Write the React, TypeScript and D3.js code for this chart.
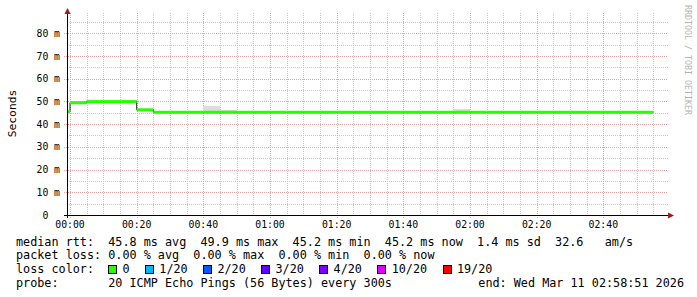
import React from "react";
import * as d3 from "d3";

const W = 697;
const H = 297;

// 5-minute RRD slots, first slot starts 5 minutes before 00:00
const slotMinutes = 5;
const firstSlotStart = -5;
const medianRtt = [
  45.5, 49.4, 49.9, 49.9, 49.9, 46.3, 45.2, 45.2, 45.2, 45.2,
  45.2, 45.2, 45.2, 45.2, 45.2, 45.2, 45.2, 45.2, 45.2, 45.2,
  45.2, 45.2, 45.2, 45.2, 45.2, 45.2, 45.2, 45.2, 45.2, 45.2,
  45.2, 45.2, 45.2, 45.2, 45.2, 45.2,
];
const smokeHigh = [
  45.5, 49.4, 49.9, 49.9, 49.9, 46.3, 45.2, 45.2, 45.2, 48.1,
  46.4, 45.2, 45.2, 45.2, 45.2, 45.2, 45.2, 45.2, 45.2, 45.2,
  45.2, 45.2, 45.2, 45.2, 46.6, 45.2, 45.2, 45.2, 45.2, 45.2,
  45.2, 45.2, 45.2, 45.2, 45.2, 45.2,
];

const timeTickMinutes = [0, 20, 40, 60, 80, 100, 120, 140, 160];
const timeTickLabels = ["00:00", "00:20", "00:40", "01:00", "01:20", "01:40", "02:00", "02:20", "02:40"];
const yTickValues = [0, 10, 20, 30, 40, 50, 60, 70, 80];
const yTickLabels = ["0", "10", "20", "30", "40", "50", "60", "70", "80"];
const yTickUnits = ["", "m", "m", "m", "m", "m", "m", "m", "m"];

const lossLabels = ["0", "1/20", "2/20", "3/20", "4/20", "10/20", "19/20"];
const lossColors = ["#26ff00", "#00b8ff", "#0059ff", "#5e00ff", "#7e00ff", "#dd00ff", "#ff0000"];

const legendRtt = "median rtt:  45.8 ms avg  49.9 ms max  45.2 ms min  45.2 ms now  1.4 ms sd  32.6   am/s";
const legendLoss = "packet loss: 0.00 % avg  0.00 % max  0.00 % min  0.00 % now";
const legendColorTitle = "loss color:";
const legendProbe = "probe:       20 ICMP Echo Pings (56 Bytes) every 300s";
const legendEnd = "end: Wed Mar 11 02:58:51 2026";
const yAxisTitle = "Seconds";
const watermark = "RRDTOOL / TOBI OETIKER";

const MONO = "'DejaVu Sans Mono', monospace";

export default function App() {
  const left = 67;
  const right = 668;
  const bottom = 215;
  const top = 15;
  const x = d3.scaleLinear().domain([-0.9, 179.4]).range([left, right]);
  const y = d3.scaleLinear().domain([0, 88]).range([bottom, top]);

  const minorMin = d3.range(0, 180, 5).filter((m) => m % 20 !== 0);
  const minorVal = d3.range(5, 88, 10);

  const slots = medianRtt.map((v, i) => {
    const t0 = firstSlotStart + i * slotMinutes;
    const t1 = t0 + slotMinutes;
    return { x0: Math.max(left, x(t0)), x1: x(t1), v, hi: smokeHigh[i] };
  });

  const stepPts: [number, number][] = [];
  slots.forEach((s) => {
    stepPts.push([s.x0, y(s.v)]);
    stepPts.push([s.x1, y(s.v)]);
  });
  const darkLine = d3.line()(stepPts) || "";

  const charW = 7.1;
  const legendFont = 11.79;
  const baseY = 245.5;
  const lineGap = 13.93;
  const legendX = 16;

  const boxes: { bx: number; tx: number; label: string; color: string }[] = [];
  let bx = legendX + 13 * charW;
  lossLabels.forEach((lab, i) => {
    const tx = bx + 2 * charW;
    boxes.push({ bx, tx, label: lab, color: lossColors[i] });
    bx = tx + lab.length * charW + 15.5;
  });

  const px = (v: number) => Math.round(v) + 0.5;

  return (
    <svg
      width={W}
      height={H}
      style={{ position: "absolute", left: 0, top: 0, display: "block", background: "#fff" }}
    >
      <rect x={0} y={0} width={W} height={H} fill="#ffffff" />
      <g stroke="#c8c8c8" strokeDasharray="1 1" shapeRendering="crispEdges" strokeWidth={1}>
        {minorMin.map((m) => (
          <line key={"mv" + m} x1={px(x(m))} x2={px(x(m))} y1={13} y2={bottom} />
        ))}
        {minorVal.map((v) => (
          <line key={"mh" + v} x1={left} x2={right} y1={px(y(v))} y2={px(y(v))} />
        ))}
      </g>
      <g stroke="#e6a0a0" strokeDasharray="1 1" shapeRendering="crispEdges" strokeWidth={1}>
        {timeTickMinutes.map((m) => (
          <line key={"Mv" + m} x1={px(x(m))} x2={px(x(m))} y1={13} y2={bottom + 3} />
        ))}
        {yTickValues.slice(1).map((v) => (
          <line key={"Mh" + v} x1={left - 3} x2={right} y1={px(y(v))} y2={px(y(v))} />
        ))}
      </g>
      <g fill="#dcdcdc" shapeRendering="crispEdges">
        {slots
          .filter((s) => s.hi > s.v)
          .map((s, i) => (
            <rect key={"s" + i} x={s.x0} y={y(s.hi)} width={s.x1 - s.x0} height={y(s.v) - y(s.hi)} />
          ))}
      </g>
      <path d={darkLine} fill="none" stroke="#202020" strokeWidth={1} />
      <g stroke={lossColors[0]} strokeWidth={3}>
        {slots.map((s, i) => (
          <line key={"g" + i} x1={s.x0} x2={s.x1} y1={y(s.v)} y2={y(s.v)} />
        ))}
      </g>
      <g stroke="#000" strokeWidth={1} shapeRendering="crispEdges">
        <line x1={left - 3} x2={right + 1} y1={bottom + 0.5} y2={bottom + 0.5} />
        <line x1={left + 0.5} x2={left + 0.5} y1={bottom + 3} y2={11} />
      </g>
      <path d={`M${right},${bottom - 2.5} L${right + 6},${bottom + 0.5} L${right},${bottom + 3.5} Z`} fill="#a01818" />
      <path d={`M${left - 2.5},${14} L${left + 0.5},${8} L${left + 3.5},${14} Z`} fill="#a01818" />
      <g fontFamily={MONO} fontSize={9.8} fill="#000">
        {yTickValues.map((v, i) => (
          <g key={"yl" + v}>
            <text x={48.3} y={y(v) + 3.6} textAnchor="end">
              {yTickLabels[i]}
            </text>
            {yTickUnits[i] && (
              <text x={54.1} y={y(v) + 3.6} fill="#000">
                {yTickUnits[i]}
              </text>
            )}
          </g>
        ))}
        {timeTickMinutes.map((m, i) => (
          <text key={"xl" + m} x={x(m)} y={227.5} textAnchor="middle">
            {timeTickLabels[i]}
          </text>
        ))}
      </g>
      <text
        fontFamily={MONO}
        fontSize={11.3}
        fill="#000"
        textAnchor="middle"
        transform={`translate(15.5,113.5) rotate(-90)`}
      >
        {yAxisTitle}
      </text>
      <text
        fontFamily={MONO}
        fontSize={8.3}
        fill="#b4b4b4"
        transform={`translate(685,5) rotate(90)`}
      >
        {watermark}
      </text>
      <g fontFamily={MONO} fontSize={legendFont} fill="#000" style={{ whiteSpace: "pre" }}>
        <text x={legendX} y={baseY} xmlSpace="preserve">{legendRtt}</text>
        <text x={legendX} y={baseY + lineGap} xmlSpace="preserve">{legendLoss}</text>
        <text x={legendX} y={baseY + 2 * lineGap} xmlSpace="preserve">{legendColorTitle}</text>
        {boxes.map((b) => (
          <g key={b.label}>
            <rect x={Math.round(b.bx) + 0.5} y={265.5} width={8} height={8} fill={b.color} stroke="#000" strokeWidth={1} shapeRendering="crispEdges" />
            <text x={b.tx} y={baseY + 2 * lineGap}>{b.label}</text>
          </g>
        ))}
        <text x={legendX} y={baseY + 3 * lineGap} xmlSpace="preserve">{legendProbe}</text>
        <text x={684} y={baseY + 3 * lineGap} textAnchor="end">{legendEnd}</text>
      </g>
    </svg>
  );
}
